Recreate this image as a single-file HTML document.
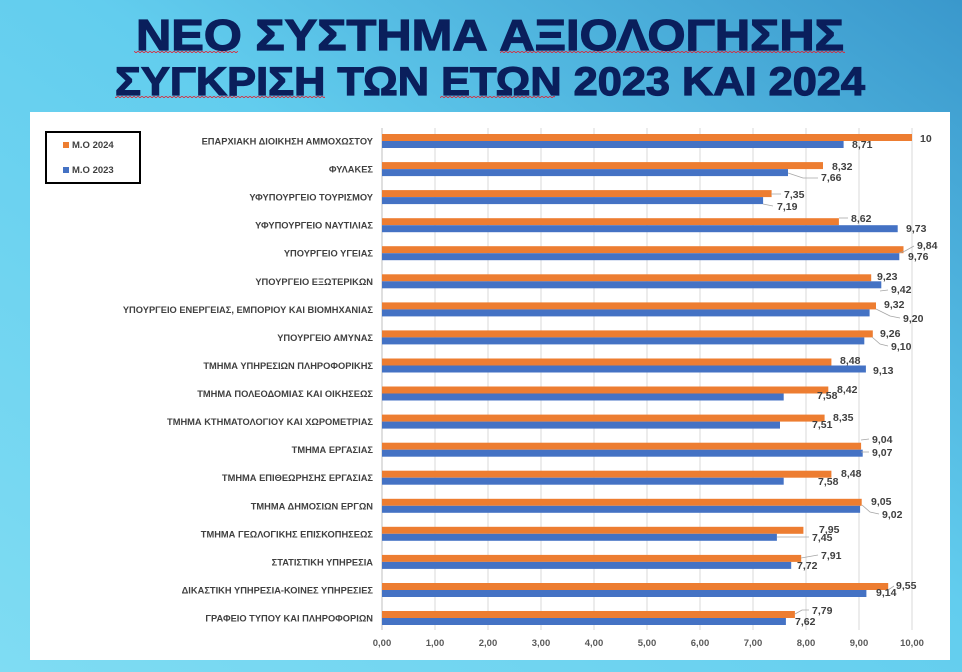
<!DOCTYPE html>
<html><head><meta charset="utf-8"><style>
html,body{margin:0;padding:0;width:962px;height:672px;overflow:hidden}
svg{display:block}
</style></head><body>
<svg width="962" height="672" xmlns="http://www.w3.org/2000/svg" font-family="Liberation Sans, DejaVu Sans, sans-serif">
<defs>
<linearGradient id="bg" x1="0" y1="1" x2="1" y2="0">
<stop offset="0" stop-color="#7fdcf3"/><stop offset="0.55" stop-color="#62cdee"/><stop offset="1" stop-color="#3a98cc"/>
</linearGradient>
<pattern id="sq" width="4" height="3" patternUnits="userSpaceOnUse"><path d="M0 2 L2 0 L4 2" stroke="#d23" stroke-width="0.8" fill="none"/></pattern>
</defs>
<rect width="962" height="672" fill="url(#bg)"/>
<text x="490" y="50" text-anchor="middle" font-size="44" font-weight="bold" fill="#0a1f5c" stroke="#0a1f5c" stroke-width="1.2" textLength="708" lengthAdjust="spacingAndGlyphs">ΝΕΟ ΣΥΣΤΗΜΑ ΑΞΙΟΛΟΓΗΣΗΣ</text>
<text x="490" y="95" text-anchor="middle" font-size="40" font-weight="bold" fill="#0a1f5c" stroke="#0a1f5c" stroke-width="1.2" textLength="750" lengthAdjust="spacingAndGlyphs">ΣΥΓΚΡΙΣΗ ΤΩΝ ΕΤΩΝ 2023 ΚΑΙ 2024</text>
<rect x="134" y="50" width="104" height="3" fill="url(#sq)"/>
<rect x="500" y="50" width="345" height="3" fill="url(#sq)"/>
<rect x="115" y="95" width="210" height="3" fill="url(#sq)"/>
<rect x="440" y="95" width="115" height="3" fill="url(#sq)"/>
<rect x="30" y="112" width="920" height="548" fill="#fff"/>
<g stroke="#d9d9d9" stroke-width="1">
<line x1="435" y1="128" x2="435" y2="630"/><line x1="488" y1="128" x2="488" y2="630"/><line x1="541" y1="128" x2="541" y2="630"/><line x1="594" y1="128" x2="594" y2="630"/><line x1="647" y1="128" x2="647" y2="630"/><line x1="700" y1="128" x2="700" y2="630"/><line x1="753" y1="128" x2="753" y2="630"/><line x1="806" y1="128" x2="806" y2="630"/><line x1="859" y1="128" x2="859" y2="630"/><line x1="912" y1="128" x2="912" y2="630"/>
</g>
<line x1="382" y1="128" x2="382" y2="630" stroke="#bfbfbf"/>
<g font-size="9.5" font-weight="bold" fill="#595959" text-anchor="middle">
<text x="382" y="646">0,00</text><text x="435" y="646">1,00</text><text x="488" y="646">2,00</text><text x="541" y="646">3,00</text><text x="594" y="646">4,00</text><text x="647" y="646">5,00</text><text x="700" y="646">6,00</text><text x="753" y="646">7,00</text><text x="806" y="646">8,00</text><text x="859" y="646">9,00</text><text x="912" y="646">10,00</text>
</g>
<rect x="46" y="132" width="94" height="51" fill="none" stroke="#000" stroke-width="2"/>
<rect x="63" y="142" width="6" height="6" fill="#ED7D31"/><text x="72" y="148" font-size="9.5" font-weight="bold" fill="#404040">Μ.Ο 2024</text>
<rect x="63" y="167" width="6" height="6" fill="#4472C4"/><text x="72" y="173" font-size="9.5" font-weight="bold" fill="#404040">Μ.Ο 2023</text>

<g font-size="9.3" font-weight="bold" fill="#404040" text-anchor="end">
<text x="373" y="144.5">ΕΠΑΡΧΙΑΚΗ ΔΙΟΙΚΗΣΗ ΑΜΜΟΧΩΣΤΟΥ</text>
<text x="373" y="172.6">ΦΥΛΑΚΕΣ</text>
<text x="373" y="200.6">ΥΦΥΠΟΥΡΓΕΙΟ ΤΟΥΡΙΣΜΟΥ</text>
<text x="373" y="228.7">ΥΦΥΠΟΥΡΓΕΙΟ ΝΑΥΤΙΛΙΑΣ</text>
<text x="373" y="256.7">ΥΠΟΥΡΓΕΙΟ ΥΓΕΙΑΣ</text>
<text x="373" y="284.8">ΥΠΟΥΡΓΕΙΟ ΕΞΩΤΕΡΙΚΩΝ</text>
<text x="373" y="312.9">ΥΠΟΥΡΓΕΙΟ ΕΝΕΡΓΕΙΑΣ, ΕΜΠΟΡΙΟΥ ΚΑΙ ΒΙΟΜΗΧΑΝΙΑΣ</text>
<text x="373" y="340.9">ΥΠΟΥΡΓΕΙΟ ΑΜΥΝΑΣ</text>
<text x="373" y="369">ΤΜΗΜΑ ΥΠΗΡΕΣΙΩΝ ΠΛΗΡΟΦΟΡΙΚΗΣ</text>
<text x="373" y="397">ΤΜΗΜΑ ΠΟΛΕΟΔΟΜΙΑΣ ΚΑΙ ΟΙΚΗΣΕΩΣ</text>
<text x="373" y="425.1">ΤΜΗΜΑ ΚΤΗΜΑΤΟΛΟΓΙΟΥ ΚΑΙ ΧΩΡΟΜΕΤΡΙΑΣ</text>
<text x="373" y="453.2">ΤΜΗΜΑ ΕΡΓΑΣΙΑΣ</text>
<text x="373" y="481.2">ΤΜΗΜΑ ΕΠΙΘΕΩΡΗΣΗΣ ΕΡΓΑΣΙΑΣ</text>
<text x="373" y="509.3">ΤΜΗΜΑ ΔΗΜΟΣΙΩΝ ΕΡΓΩΝ</text>
<text x="373" y="537.3">ΤΜΗΜΑ ΓΕΩΛΟΓΙΚΗΣ ΕΠΙΣΚΟΠΗΣΕΩΣ</text>
<text x="373" y="565.4">ΣΤΑΤΙΣΤΙΚΗ ΥΠΗΡΕΣΙΑ</text>
<text x="373" y="593.5">ΔΙΚΑΣΤΙΚΗ ΥΠΗΡΕΣΙΑ-ΚΟΙΝΕΣ ΥΠΗΡΕΣΙΕΣ</text>
<text x="373" y="621.5">ΓΡΑΦΕΙΟ ΤΥΠΟΥ ΚΑΙ ΠΛΗΡΟΦΟΡΙΩΝ</text>
</g>

<g fill="#ED7D31">
<rect x="382" y="134" width="530" height="7"/>
<rect x="382" y="162.1" width="441" height="7"/>
<rect x="382" y="190.1" width="389.6" height="7"/>
<rect x="382" y="218.2" width="456.9" height="7"/>
<rect x="382" y="246.2" width="521.5" height="7"/>
<rect x="382" y="274.3" width="489.2" height="7"/>
<rect x="382" y="302.4" width="494" height="7"/>
<rect x="382" y="330.4" width="490.8" height="7"/>
<rect x="382" y="358.5" width="449.4" height="7"/>
<rect x="382" y="386.5" width="446.3" height="7"/>
<rect x="382" y="414.6" width="442.6" height="7"/>
<rect x="382" y="442.7" width="479.1" height="7"/>
<rect x="382" y="470.7" width="449.4" height="7"/>
<rect x="382" y="498.8" width="479.7" height="7"/>
<rect x="382" y="526.8" width="421.4" height="7"/>
<rect x="382" y="554.9" width="419.2" height="7"/>
<rect x="382" y="583" width="506.2" height="7"/>
<rect x="382" y="611" width="412.9" height="7"/>
</g>
<g fill="#4472C4">
<rect x="382" y="141" width="461.6" height="7"/>
<rect x="382" y="169.1" width="406" height="7"/>
<rect x="382" y="197.1" width="381.1" height="7"/>
<rect x="382" y="225.2" width="515.7" height="7"/>
<rect x="382" y="253.2" width="517.3" height="7"/>
<rect x="382" y="281.3" width="499.3" height="7"/>
<rect x="382" y="309.4" width="487.6" height="7"/>
<rect x="382" y="337.4" width="482.3" height="7"/>
<rect x="382" y="365.5" width="483.9" height="7"/>
<rect x="382" y="393.5" width="401.7" height="7"/>
<rect x="382" y="421.6" width="398" height="7"/>
<rect x="382" y="449.7" width="480.7" height="7"/>
<rect x="382" y="477.7" width="401.7" height="7"/>
<rect x="382" y="505.8" width="478.1" height="7"/>
<rect x="382" y="533.8" width="394.9" height="7"/>
<rect x="382" y="561.9" width="409.2" height="7"/>
<rect x="382" y="590" width="484.4" height="7"/>
<rect x="382" y="618" width="403.9" height="7"/>
</g>

<g font-size="10.5" font-weight="bold" fill="#404040">
<text x="920" y="142">10</text><text x="852" y="148">8,71</text>
<text x="832" y="170">8,32</text><text x="821" y="181">7,66</text>
<text x="784" y="198">7,35</text><text x="777" y="210">7,19</text>
<text x="851" y="222">8,62</text><text x="906" y="232">9,73</text>
<text x="917" y="249">9,84</text><text x="908" y="260">9,76</text>
<text x="877" y="280">9,23</text><text x="891" y="293">9,42</text>
<text x="884" y="308">9,32</text><text x="903" y="322">9,20</text>
<text x="880" y="337">9,26</text><text x="891" y="350">9,10</text>
<text x="840" y="364">8,48</text><text x="873" y="374">9,13</text>
<text x="837" y="393">8,42</text><text x="817" y="399">7,58</text>
<text x="833" y="421">8,35</text><text x="812" y="428">7,51</text>
<text x="872" y="443">9,04</text><text x="872" y="456">9,07</text>
<text x="841" y="477">8,48</text><text x="818" y="485">7,58</text>
<text x="871" y="505">9,05</text><text x="882" y="518">9,02</text>
<text x="819" y="533">7,95</text><text x="812" y="541">7,45</text>
<text x="821" y="559">7,91</text><text x="797" y="569">7,72</text>
<text x="896" y="589">9,55</text><text x="876" y="596">9,14</text>
<text x="812" y="614">7,79</text><text x="795" y="625">7,62</text>
</g>
<g stroke="#a6a6a6" stroke-width="0.8" fill="none">
<path d="M788 173 L803 178 L818 178"/>
<path d="M771 194 L781 194"/>
<path d="M763 204 L773 206"/>
<path d="M839 218 L848 218"/>
<path d="M899 253 L905 251 L914 246"/>
<path d="M880 291 L888 290"/>
<path d="M876 309 L890 316 L900 318"/>
<path d="M872 337 L880 344 L888 346"/>
<path d="M861 452 L869 452"/>
<path d="M861 440 L869 439"/>
<path d="M862 505 L870 512 L879 514"/>
<path d="M777 537 L809 537"/>
<path d="M801 558 L818 555"/>
<path d="M888 590 L894 586"/>
<path d="M795 614 L802 610 L809 610"/>
</g>
</svg>
</body></html>
